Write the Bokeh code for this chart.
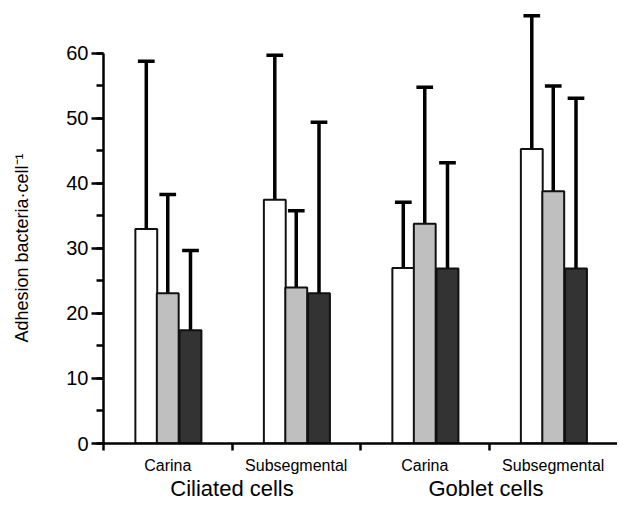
import math
from bokeh.plotting import figure
from bokeh.models import (Range1d, FixedTicker, SingleIntervalTicker, LinearAxis,
                          Title, ColumnDataSource)
from bokeh.embed import file_html
from bokeh.resources import INLINE

# ---- data ----
categories = ["Carina", "Subsegmental", "Carina", "Subsegmental"]
groups = ["Ciliated cells", "Goblet  cells"]
series_names = ["white", "gray", "dark"]
series_colors = ["#ffffff", "#bfbfbf", "#333333"]
white_mean = [33.0, 37.5, 27.0, 45.3]
white_upper = [58.8, 59.7, 37.1, 65.8]
gray_mean = [23.1, 24.0, 33.8, 38.8]
gray_upper = [38.3, 35.8, 54.8, 55.0]
dark_mean = [17.4, 23.1, 26.9, 26.9]
dark_upper = [29.7, 49.4, 43.2, 53.1]
y_ticks = [0, 10, 20, 30, 40, 50, 60]
y_label = "Adhesion  bacteria\u00b7cell\u207b\u00b9"

means = [white_mean, gray_mean, dark_mean]
uppers = [white_upper, gray_upper, dark_upper]

FONT = "Liberation Sans"

p = figure(width=617, height=503, output_backend="svg", toolbar_location=None,
           x_range=Range1d(0, 4), y_range=Range1d(0, 66.6),
           min_border_left=103, min_border_top=10, min_border_right=0,
           min_border_bottom=60, x_axis_type=None, y_axis_type=None)
p.grid.visible = False
p.outline_line_color = None
p.background_fill_color = "white"
p.border_fill_color = "white"

bar_w = 0.17
offsets = [-0.167, 0.0, 0.177]
cap_half = 0.065

for k in range(3):
    xs = [i + 0.5 + offsets[k] for i in range(len(categories))]
    src = ColumnDataSource(dict(x=xs, top=means[k], up=uppers[k],
                                x0=[x - cap_half for x in xs],
                                x1=[x + cap_half for x in xs]))
    p.segment(x0="x", y0="top", x1="x", y1="up", source=src,
              line_color="black", line_width=3.5)
    p.segment(x0="x0", y0="up", x1="x1", y1="up", source=src,
              line_color="black", line_width=3.5)
    p.vbar(x="x", width=bar_w, bottom=0, top="top", source=src,
           fill_color=series_colors[k], line_color="#111111", line_width=2)

# y axis (a blank axis label only reserves room so the title sits further out)
yax = LinearAxis(ticker=SingleIntervalTicker(interval=10, num_minor_ticks=2),
                 bounds=(0, 60))
yax.major_tick_out = 12
yax.major_tick_in = 0
yax.minor_tick_out = 7
yax.minor_tick_in = 0
yax.axis_line_width = 2.5
yax.major_tick_line_width = 2.5
yax.minor_tick_line_width = 2.5
yax.major_label_text_font = FONT
yax.major_label_text_font_size = "20px"
yax.major_label_text_color = "black"
yax.major_label_standoff = 3
yax.axis_label = " "
yax.axis_label_text_font_size = "10px"
yax.axis_label_standoff = 8
p.add_layout(yax, "left")

# y axis title, placed along the 0-60 span
ytitle = Title(text=y_label, align="left", offset=101, vertical_align="middle",
               standoff=18, text_font=FONT, text_font_size="18px",
               text_font_style="normal", text_color="black")
p.add_layout(ytitle, "left")

# x axis with categories
cat_pos = [i + 0.5 for i in range(len(categories))]
bnd_pos = [float(i) for i in range(len(categories))]
xax = LinearAxis(ticker=FixedTicker(ticks=cat_pos, minor_ticks=bnd_pos))
xax.major_label_overrides = {c: n for c, n in zip(cat_pos, categories)}
xax.major_tick_out = 0
xax.major_tick_in = 0
xax.minor_tick_out = 7
xax.minor_tick_in = 0
xax.axis_line_width = 2.5
xax.minor_tick_line_width = 2.5
xax.major_label_text_font = FONT
xax.major_label_text_font_size = "16px"
xax.major_label_text_color = "black"
xax.major_label_standoff = 6
p.add_layout(xax, "below")

# group axis
grp_pos = [1.0, 3.0]
gax = LinearAxis(ticker=FixedTicker(ticks=grp_pos, minor_ticks=[]))
gax.major_label_overrides = {c: n for c, n in zip(grp_pos, groups)}
gax.axis_line_color = None
gax.major_tick_line_color = None
gax.minor_tick_line_color = None
gax.major_label_text_font = FONT
gax.major_label_text_font_size = "22px"
gax.major_label_text_color = "black"
gax.major_label_standoff = -7
p.add_layout(gax, "below")

open("out.html", "w").write(file_html(p, INLINE))
